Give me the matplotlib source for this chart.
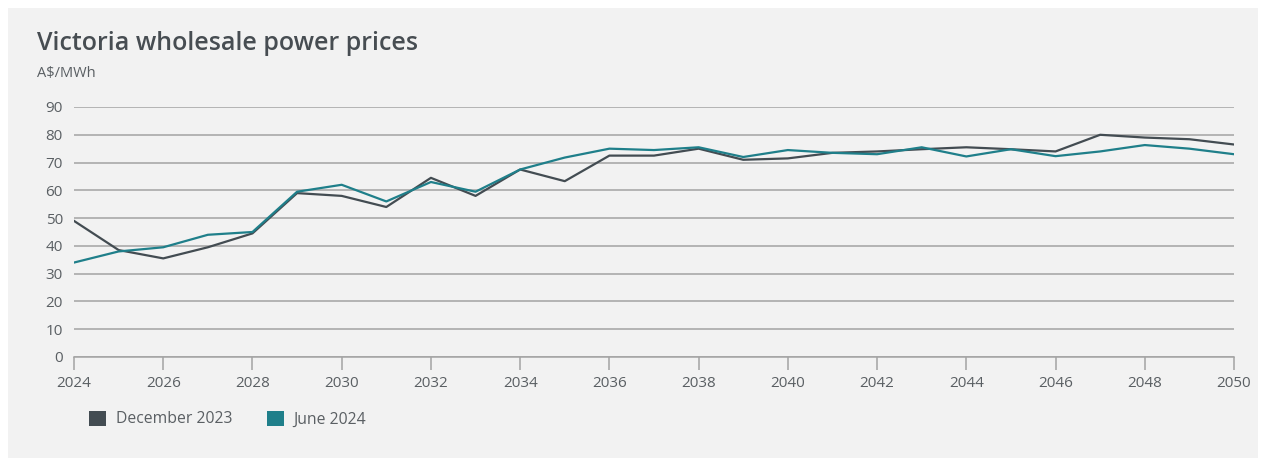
import matplotlib
matplotlib.use("Agg")
import matplotlib.pyplot as plt
from matplotlib.patches import Rectangle, Patch

years = list(range(2024, 2051))
dec_2023 = [49, 38.5, 35.5, 39.5, 44.5, 59, 58, 54, 64.5, 58, 67.5, 63.3, 72.5,
            72.5, 75, 71, 71.5, 73.5, 74, 74.8, 75.5, 74.8, 74, 80, 79, 78.4, 76.5]
jun_2024 = [34, 38, 39.5, 44, 45, 59.5, 62, 56, 63, 59.5, 67.5, 71.8, 75,
            74.5, 75.5, 72, 74.5, 73.5, 73, 75.5, 72.2, 74.8, 72.3, 74, 76.3, 75, 73]
y_ticks = list(range(0, 100, 10))
x_ticks = list(range(2024, 2051, 2))

DARK = "#434c52"
TEAL = "#1f7f8a"
GRID = "#a3a3a3"
TEXT = "#5a5f63"

plt.rcParams["font.family"] = ["Open Sans", "DejaVu Sans"]

fig = plt.figure(figsize=(12.65, 4.62), dpi=100)
fig.patch.set_facecolor("white")
# light grey panel behind everything
fig.patches.append(Rectangle((8 / 1265, 4 / 462), 1250 / 1265, 450 / 462,
                             transform=fig.transFigure, facecolor="#f2f2f2",
                             edgecolor="none", zorder=-10))

ax = fig.add_axes([74 / 1265, 1 - 357 / 462, 1160 / 1265, 250 / 462])
ax.set_facecolor("none")
ax.set_zorder(1)

ax.plot(years, dec_2023, color=DARK, linewidth=1.6, zorder=3)
ax.plot(years, jun_2024, color=TEAL, linewidth=1.6, zorder=3)

ax.set_xlim(2024, 2050)
ax.set_ylim(0, 90)
ax.set_yticks(y_ticks)
ax.set_xticks(x_ticks)
ax.yaxis.grid(True, color=GRID, linewidth=1.1)
ax.set_axisbelow(True)
for side in ["top", "right", "left"]:
    ax.spines[side].set_visible(False)
ax.spines["bottom"].set_color(GRID)
ax.spines["bottom"].set_linewidth(1.1)
ax.tick_params(axis="y", length=0, pad=8, labelsize=11, labelcolor=TEXT)
ax.tick_params(axis="x", length=9, width=1.1, color=GRID, pad=5,
               labelsize=11, labelcolor=TEXT)

fig.text(37 / 1265, 1 - 43 / 462, "Victoria wholesale power prices",
         fontsize=18, fontweight="semibold", color="#474d52", va="center")
fig.text(37 / 1265, 1 - 73 / 462, "A$/MWh", fontsize=10.5, color=TEXT,
         va="center")

handles = [Patch(facecolor=DARK, label="December 2023"),
           Patch(facecolor=TEAL, label="June 2024")]
fig.legend(handles=handles, loc="center left",
           bbox_to_anchor=(75 / 1265, 1 - 419 / 462), ncol=2, frameon=False,
           fontsize=11.3, labelcolor=TEXT, handlelength=1.1, handleheight=1.1,
           columnspacing=2.2, handletextpad=0.6)

fig.savefig("out.png", dpi=100, facecolor="white")
